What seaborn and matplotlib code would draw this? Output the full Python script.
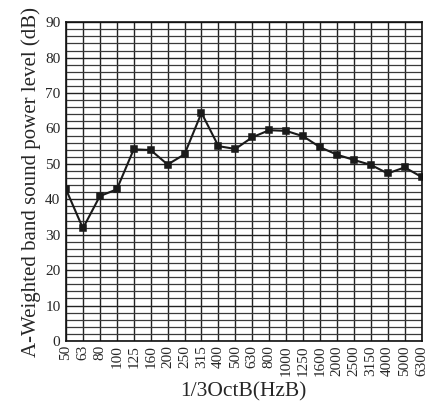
import numpy as np
import pandas as pd
import matplotlib
matplotlib.use("Agg")
import matplotlib.pyplot as plt
from matplotlib.ticker import MultipleLocator
import seaborn as sns

# Bandas de 1/3 de octava y niveles
bandas = ['50', '63', '80', '100', '125', '160', '200', '250', '315', '400', '500',
          '630', '800', '1000', '1250', '1600', '2000', '2500', '3150', '4000', '5000', '6300']
niveles = [42.8, 31.8, 40.9, 42.8, 54.1, 53.9, 49.8, 52.7, 64.4, 55.0, 54.2,
           57.5, 59.5, 59.3, 57.8, 54.7, 52.6, 51.1, 49.7, 47.3, 49.0, 46.3]

sns.set_style("white")
plt.rcParams['font.family'] = ['Liberation Serif', 'DejaVu Serif']

df = pd.DataFrame({'banda': bandas, 'nivel': niveles})

fig = plt.figure(figsize=(4.3, 4.03), dpi=100)
ax = fig.add_axes([0.1535, 0.154, 0.827, 0.791])

sns.pointplot(data=df, x='banda', y='nivel', order=bandas, color='#1a1a1a',
              markers='s', markersize=4.5, linewidth=1.5, ax=ax)

ax.set_xlim(0, len(bandas) - 1)
ax.set_ylim(0, 90)
ax.yaxis.set_major_locator(MultipleLocator(10))
ax.yaxis.set_minor_locator(MultipleLocator(2))
ax.set_xticks(range(len(bandas)))
ax.set_xticklabels(bandas, rotation=90, fontsize=11)
ax.tick_params(axis='y', labelsize=11, length=0, pad=4)
ax.tick_params(axis='x', length=0, pad=3)

# Rejilla densa como en la figura original
ax.grid(True, which='major', axis='both', color='#222222', linewidth=1.0)
ax.grid(True, which='minor', axis='y', color='#3a3a3a', linewidth=0.9)
ax.set_axisbelow(True)

for s in ax.spines.values():
    s.set_color('#111111')
    s.set_linewidth(1.2)

ax.set_xlabel("1/3OctB(HzB)", fontsize=15.5, labelpad=5)
ax.set_ylabel("A-Weighted band sound power level (dB)", fontsize=15, labelpad=3)

fig.savefig("out.png", dpi=100)
